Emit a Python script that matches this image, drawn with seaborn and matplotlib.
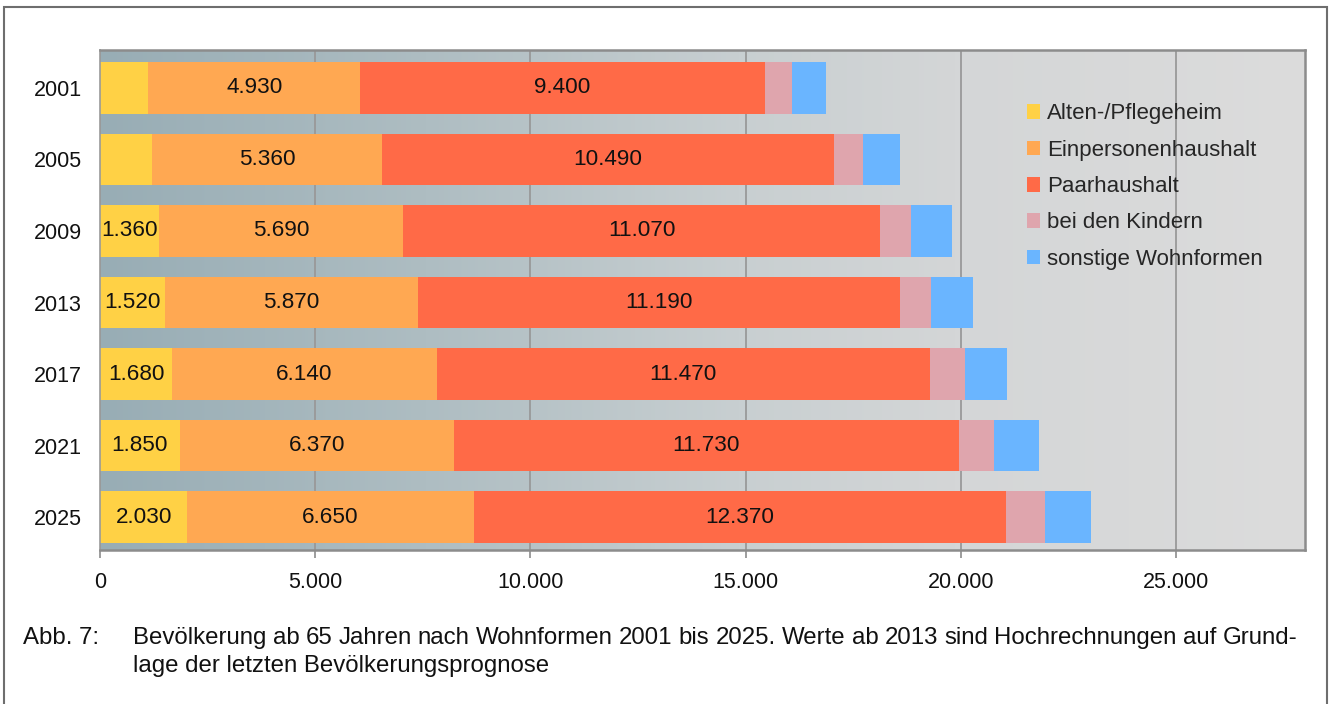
import numpy as np
import pandas as pd
import matplotlib
matplotlib.use("Agg")
import matplotlib.pyplot as plt
from matplotlib.colors import LinearSegmentedColormap
from matplotlib.patches import Patch
from matplotlib.lines import Line2D
from matplotlib.ticker import FuncFormatter
import seaborn as sns

# ---- data (persons aged 65+, by living arrangement) ----
years = ["2001", "2005", "2009", "2013", "2017", "2021", "2025"]
pflegeheim = [1120, 1200, 1360, 1520, 1680, 1850, 2030]
einpersonen = [4930, 5360, 5690, 5870, 6140, 6370, 6650]
paar = [9400, 10490, 11070, 11190, 11470, 11730, 12370]
kinder = [620, 680, 720, 730, 800, 830, 900]
sonstige = [810, 860, 950, 970, 990, 1030, 1070]

series_names = ["Alten-/Pflegeheim", "Einpersonenhaushalt", "Paarhaushalt",
                "bei den Kindern", "sonstige Wohnformen"]
colors = ["#FFD145", "#FFA852", "#FF6A47", "#DFA5AD", "#6AB5FF"]
x_ticks = [0, 5000, 10000, 15000, 20000, 25000]

caption_tag = "Abb. 7:"
caption_lines = [
    "Bevölkerung ab 65 Jahren nach Wohnformen 2001 bis 2025. Werte ab 2013 sind Hochrechnungen auf Grund-",
    "lage der letzten Bevölkerungsprognose",
]

# ---- styling ----
sns.set_theme(style="white")
plt.rcParams["font.family"] = ["Liberation Sans", "DejaVu Sans"]
FS = 15.5
FS_LABEL = 16.2
FS_CAPTION = 17.3
W, H = 1333, 704

df = pd.DataFrame({"Jahr": years})
for name, vals in zip(series_names, [pflegeheim, einpersonen, paar, kinder, sonstige]):
    df[name] = vals
cum = df[series_names].cumsum(axis=1)
cum.insert(0, "Jahr", years)

fig = plt.figure(figsize=(W / 100, H / 100), dpi=100)
ax = fig.add_axes([100 / W, 154 / H, 1205 / W, 500 / H])

# gradient background of the plot area
bg_cmap = LinearSegmentedColormap.from_list(
    "bg", [(0.0, "#98adb5"), (0.27, "#aebdc2"), (0.53, "#c8cfd1"),
           (0.71, "#d4d6d7"), (1.0, "#dcdcdc")])
ax.imshow(np.linspace(0, 1, 512)[None, :], cmap=bg_cmap, extent=(0, 1, 0, 1),
          transform=ax.transAxes, aspect="auto", zorder=0, interpolation="bicubic")

# stacked bars: draw cumulative totals from the outermost segment inwards
for name, col in reversed(list(zip(series_names, colors))):
    sns.barplot(data=cum, x=name, y="Jahr", orient="h", color=col, saturation=1,
                width=0.72, linewidth=0, edgecolor="none", ax=ax, zorder=2)

# value labels inside segments
def fmt(v):
    return f"{int(round(v)):,}".replace(",", ".")

for i in range(len(years)):
    start = 0
    for j, name in enumerate(series_names):
        v = df[name].iloc[i]
        show = (j in (1, 2)) or (j == 0 and v >= 1300)
        if show:
            ax.text(start + v / 2, i, fmt(v), ha="center", va="center",
                    fontsize=FS_LABEL, color="#111111", zorder=3)
        start += v

ax.set_xlim(0, 28000)
ax.set_ylim(6.46, -0.53)
ax.set_xticks(x_ticks)
ax.xaxis.set_major_formatter(FuncFormatter(lambda v, p: fmt(v)))
ax.set_xlabel("")
ax.set_ylabel("")
ax.set_axisbelow(True)
ax.xaxis.grid(True, color="#999999", linewidth=1.3, zorder=1)
ax.yaxis.grid(False)

ax.tick_params(axis="x", length=6, width=1.2, color="#8c8c8c", pad=10,
               labelsize=FS, labelcolor="#111111", direction="out", bottom=True)
ax.tick_params(axis="y", length=0, pad=13, labelsize=FS, labelcolor="#111111")

for side in ("top", "right", "bottom"):
    ax.spines[side].set_color("#8c8c8c")
    ax.spines[side].set_linewidth(1.8)
ax.spines["left"].set_color("#9a9a9a")
ax.spines["left"].set_linewidth(1.2)

handles = [Patch(facecolor=c, edgecolor="none", label=n) for n, c in zip(series_names, colors)]
ax.legend(handles=handles, loc="upper left", bbox_to_anchor=(0.769, 0.893),
          frameon=False, fontsize=16, handlelength=0.62, handleheight=0.62,
          handletextpad=0.3, labelspacing=0.69, borderpad=0, borderaxespad=0)

# caption: tag plus a justified first line and a ragged last line
base1 = 1 - 644 / H
base2 = 1 - 672 / H
fig.text(23 / W, base1, caption_tag, fontsize=FS_CAPTION, va="baseline", ha="left", color="#111111")

renderer = fig.canvas.get_renderer()
x0, x1 = 133, 1297
words = caption_lines[0].split(" ")
word_texts = [fig.text(0, base1, w, fontsize=FS_CAPTION, va="baseline", ha="left", color="#111111")
              for w in words]
widths = [t.get_window_extent(renderer).width for t in word_texts]
gap = (x1 - x0 - sum(widths)) / (len(words) - 1)
xpos = x0
for t, wd in zip(word_texts, widths):
    t.set_x(xpos / W)
    xpos += wd + gap
fig.text(x0 / W, base2, caption_lines[1], fontsize=FS_CAPTION, va="baseline", ha="left", color="#111111")

# outer frame (open at the bottom)
xl, xr, yt = 3.5 / W, 1327 / W, 1 - 7 / H
fig.add_artist(Line2D([xl, xl, xr, xr], [-0.01, yt, yt, -0.01], transform=fig.transFigure,
                      color="#6e6e6e", linewidth=1.5, solid_joinstyle="miter"))

fig.savefig("out.png", dpi=100)
